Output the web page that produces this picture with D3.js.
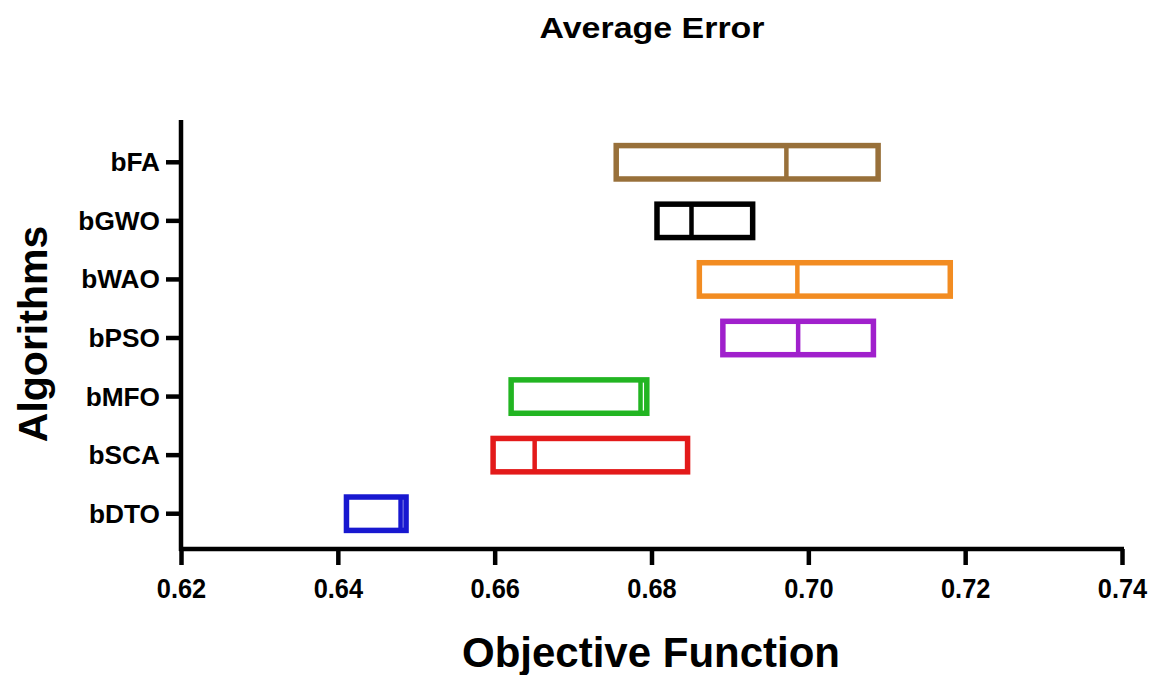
<!DOCTYPE html>
<html>
<head>
<meta charset="utf-8">
<script src="https://cdn.jsdelivr.net/npm/d3@7"></script>
<style>
  body { margin: 0; background: #fff; }
  text { font-family: 'Liberation Sans', Arial, sans-serif; font-weight: bold; fill: #000; }
</style>
</head>
<body>
<div id="chart"></div>
<script>
// values (min / median / max of each algorithm)
var algorithms = ['bFA', 'bGWO', 'bWAO', 'bPSO', 'bMFO', 'bSCA', 'bDTO'];
var lowVals = [0.6755, 0.6807, 0.6861, 0.6891, 0.6621, 0.6598, 0.6411];
var medVals = [0.6972, 0.6851, 0.6986, 0.6987, 0.6786, 0.6651, 0.6480];
var highVals = [0.7089, 0.6929, 0.7181, 0.7083, 0.6794, 0.6846, 0.6487];
var boxColours = ['#98703a', '#000000', '#f28c22', '#a020cc', '#22b522', '#e31a1a', '#1818d0'];
var xTicks = [0.62, 0.64, 0.66, 0.68, 0.70, 0.72, 0.74];

var width = 1156, height = 675;
var plotLeft = 181, plotRight = 1122, plotTop = 120, plotBottom = 549;

var svg = d3.select('#chart').append('svg')
  .attr('width', width)
  .attr('height', height);

var x = d3.scaleLinear().domain([0.62, 0.74]).range([plotLeft, plotRight]);
var y = d3.scaleBand().domain(algorithms).range([133, 543]).padding(0);

// stretch text horizontally, the picture's text is wider than Arial
function stretch(sel, factor) {
  sel.each(function() {
    var w = this.getComputedTextLength();
    d3.select(this).attr('textLength', w * factor).attr('lengthAdjust', 'spacingAndGlyphs');
  });
}

// boxes
var rows = algorithms.map(function(a, i) {
  return {name: a, lo: lowVals[i], med: medVals[i], hi: highVals[i], col: boxColours[i]};
});
var boxH = y.bandwidth() * 0.57;

var g = svg.append('g').attr('class', 'boxes');
g.selectAll('rect')
  .data(rows)
  .join('rect')
  .attr('x', function(d) { return x(d.lo); })
  .attr('width', function(d) { return x(d.hi) - x(d.lo); })
  .attr('y', function(d) { return y(d.name) + y.bandwidth() / 2 - boxH / 2; })
  .attr('height', boxH)
  .attr('fill', 'none')
  .attr('stroke', function(d) { return d.col; })
  .attr('stroke-width', 5.5);

g.selectAll('line')
  .data(rows)
  .join('line')
  .attr('x1', function(d) { return x(d.med); })
  .attr('x2', function(d) { return x(d.med); })
  .attr('y1', function(d) { return y(d.name) + y.bandwidth() / 2 - boxH / 2; })
  .attr('y2', function(d) { return y(d.name) + y.bandwidth() / 2 + boxH / 2; })
  .attr('stroke', function(d) { return d.col; })
  .attr('stroke-width', 4.5);

// x axis
var xAxis = svg.append('g')
  .attr('transform', 'translate(0,' + plotBottom + ')')
  .call(d3.axisBottom(x).tickValues(xTicks).tickFormat(d3.format('.2f')).tickSize(16).tickSizeOuter(0));
xAxis.select('.domain').remove();
xAxis.selectAll('.tick line').attr('stroke', '#000').attr('stroke-width', 4.5);
xAxis.selectAll('.tick text')
  .attr('y', 49)
  .attr('dy', null)
  .attr('font-size', 27)
  .call(stretch, 0.94);
xAxis.append('line')
  .attr('x1', plotLeft - 2).attr('x2', plotRight + 2)
  .attr('stroke', '#000').attr('stroke-width', 4.5);

// y axis
var yAxis = svg.append('g')
  .attr('transform', 'translate(' + plotLeft + ',0)')
  .call(d3.axisLeft(y).tickSize(15).tickPadding(6).tickSizeOuter(0));
yAxis.select('.domain').remove();
yAxis.selectAll('.tick line').attr('stroke', '#000').attr('stroke-width', 4.5);
yAxis.selectAll('.tick text')
  .attr('font-size', 25)
  .attr('dy', '0.36em')
  .call(stretch, 1.05);
yAxis.append('line')
  .attr('y1', plotTop).attr('y2', plotBottom + 2)
  .attr('stroke', '#000').attr('stroke-width', 4.5);

// titles
svg.append('text')
  .attr('x', 652).attr('y', 38)
  .attr('text-anchor', 'middle')
  .attr('font-size', 29)
  .text('Average Error')
  .call(stretch, 1.17);

svg.append('text')
  .attr('x', 651).attr('y', 667)
  .attr('text-anchor', 'middle')
  .attr('font-size', 42)
  .text('Objective Function')
  .call(stretch, 1.0);

svg.append('text')
  .attr('transform', 'translate(47,334) rotate(-90)')
  .attr('text-anchor', 'middle')
  .attr('font-size', 41)
  .text('Algorithms');
</script>
</body>
</html>
